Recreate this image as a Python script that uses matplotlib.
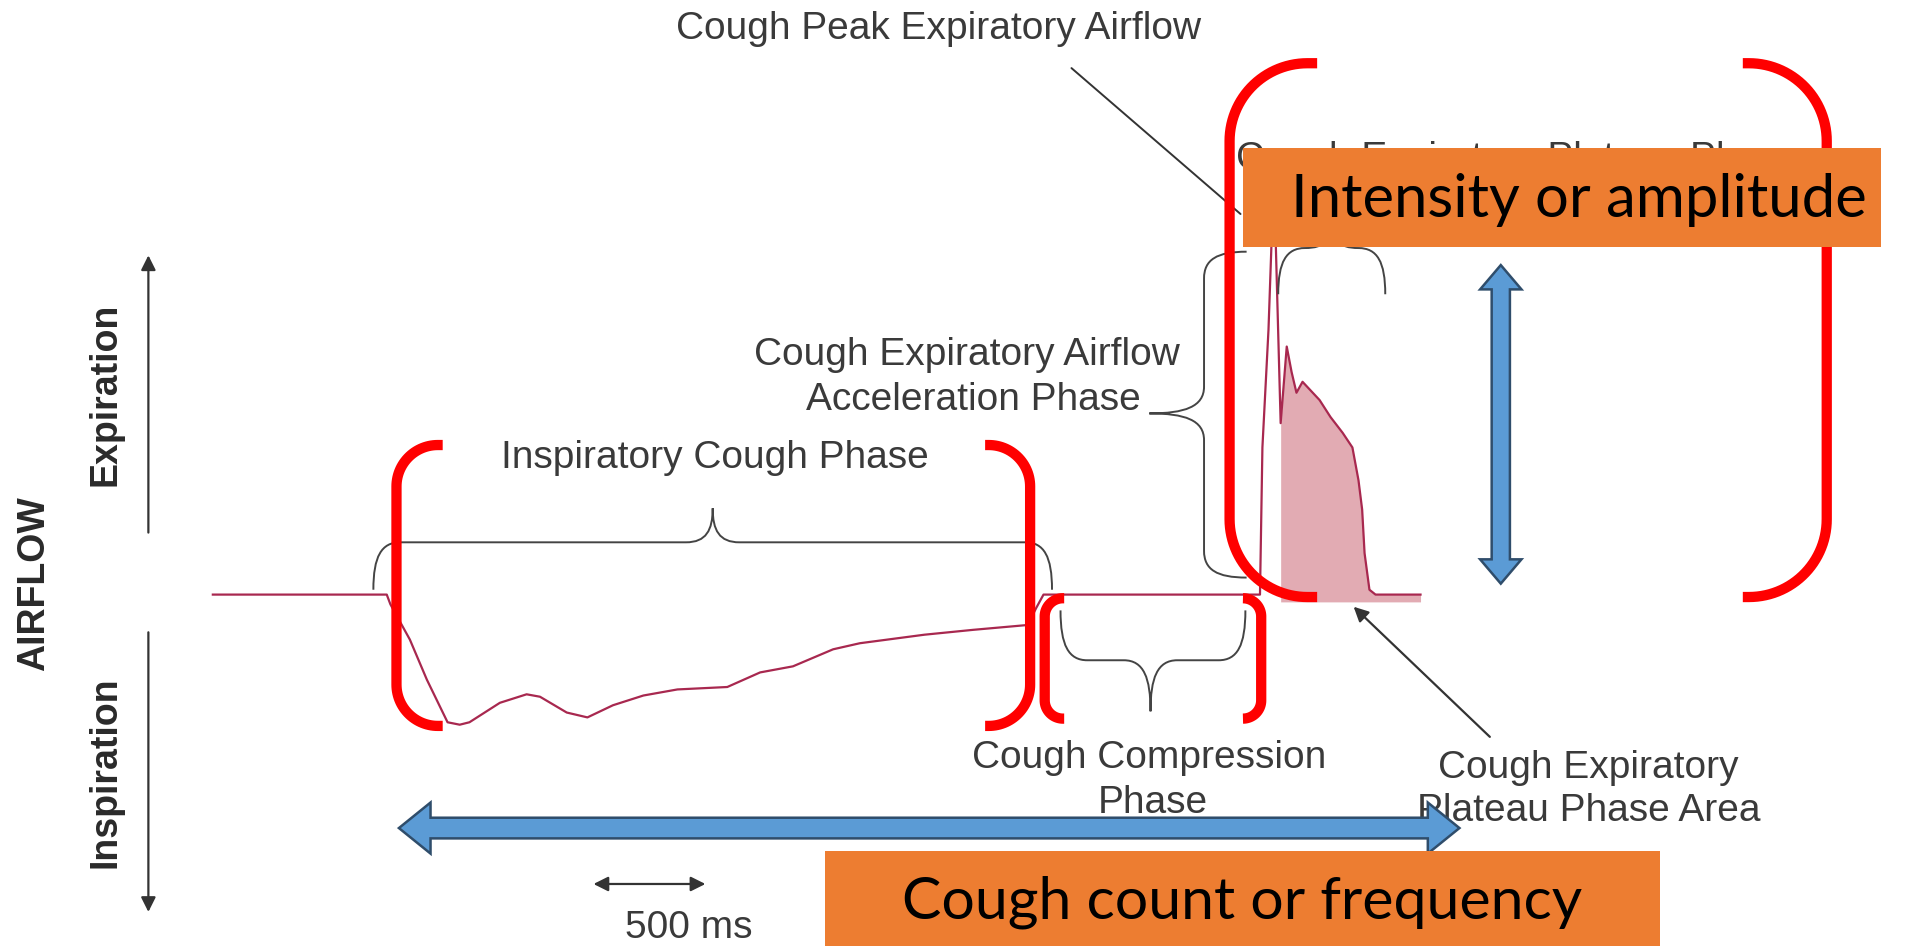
import numpy as np
import matplotlib.pyplot as plt
from matplotlib.patches import Polygon, Rectangle, PathPatch
from matplotlib.path import Path

plt.rcParams['font.family'] = ['Liberation Sans', 'DejaVu Sans']

# airflow trace (picture pixels, y grows downwards)
trace_x = [175, 318, 321, 337, 351, 368, 378, 386, 411, 433, 444, 466, 483, 504,
           529, 557, 598, 625, 652, 685, 707, 760, 800, 845, 852, 858, 1036, 1038,
           1043, 1046, 1049, 1053, 1058, 1062, 1066, 1071, 1085, 1094, 1104, 1112,
           1117, 1120, 1122, 1126, 1131, 1168]
trace_y = [489, 489, 497, 526, 559, 594, 596, 594, 578, 571, 573, 586, 590, 580,
           572, 567, 565, 553, 548, 534, 529, 522, 518, 514, 500, 489, 489, 368,
           271, 185, 201, 348, 285, 306, 323, 314, 329, 343, 356, 368, 395, 419,
           455, 485, 489, 489]
plateau_start = 31   # index where the shaded plateau area begins
plateau_floor = 495

# phase labels: text, x, y
labels = [
    ("Cough Peak Expiratory Airflow", 772, 24),
    ("Cough Expiratory Plateau Phase", 1248, 131),
    ("Cough Expiratory Airflow", 795, 292),
    ("Acceleration Phase", 800, 329),
    ("Inspiratory Cough Phase", 588, 377),
    ("Cough Compression", 945, 623),
    ("Phase", 948, 660),
    ("Cough Expiratory", 1306, 632),
    ("Plateau Phase Area", 1306, 667),
    ("500 ms", 566, 763),
]
side_labels = [("AIRFLOW", 28, 480), ("Expiration", 87, 324), ("Inspiration", 87, 635)]

# red brackets: x of vertical stroke, x of stub end, top, bottom, corner radius
red_brackets = [
    (1011, 1083, 52, 491, 64), (1502, 1433, 52, 491, 64),
    (326, 364, 366, 597, 34), (847, 810, 366, 597, 34),
    (859, 875, 492, 591, 15), (1037, 1022, 492, 591, 15),
]

# curly braces: start, end, tip position, level, end offset, tip offset, vertical?
braces = [
    (307, 865, 586, 446, 39, 28, False),
    (872, 1024, 946, 543, -41, -42, False),
    (1051, 1139, 1095, 204, 38, 20, False),
    (207, 475, 340, 990, 35, 45, True),
]

# orange boxes: x, y, w, h, text, font size, text shift
boxes = [(1022, 122, 525, 81, "Intensity or amplitude", 43, 14),
         (678, 700, 687, 80, "Cough count or frequency", 42.5, 0)]


def brace_path(a0, a1, am, lev, e, t, r=22):
    pts = [(a0, lev + e),
           (a0, lev + e * 0.3), (a0 + r * 0.3, lev), (a0 + r, lev),
           (am - r, lev),
           (am - r * 0.25, lev), (am, lev - t * 0.35), (am, lev - t),
           (am, lev - t * 0.35), (am + r * 0.25, lev), (am + r, lev),
           (a1 - r, lev),
           (a1 - r * 0.3, lev), (a1, lev + e * 0.3), (a1, lev + e)]
    codes = [Path.MOVETO] + [Path.CURVE4] * 3 + [Path.LINETO] + [Path.CURVE4] * 6 \
        + [Path.LINETO] + [Path.CURVE4] * 3
    return pts, codes


def red_bracket(ax, xv, xe, y0, y1, r):
    side = np.sign(xe - xv)
    cx = xv + side * r
    th = np.linspace(0, np.pi / 2, 30)
    top_x = cx - side * r * np.sin(th)
    top_y = y0 + r - r * np.cos(th)
    bot_x = cx - side * r * np.cos(th)
    bot_y = y1 - r + r * np.sin(th)
    xs = np.concatenate([[xe], top_x, bot_x, [xe]])
    ys = np.concatenate([[y0], top_y, bot_y, [y1]])
    ax.plot(xs, ys, color='#ff0000', lw=7.4, solid_capstyle='butt',
            solid_joinstyle='round', zorder=5)


def block_arrow(a0, a1, shaft, head, hlen):
    # outline of a double headed arrow along one axis, offsets across it
    return [(a0, 0), (a0 + hlen, -head), (a0 + hlen, -shaft), (a1 - hlen, -shaft),
            (a1 - hlen, -head), (a1, 0), (a1 - hlen, head), (a1 - hlen, shaft),
            (a0 + hlen, shaft), (a0 + hlen, head)]


fig = plt.figure(figsize=(19.07, 9.46), dpi=100)
ax = fig.add_axes([0, 0, 1, 1])
ax.set_xlim(0, 1568)
ax.set_ylim(778, 0)
ax.axis('off')

# trace and plateau area
ax.fill_between(trace_x[plateau_start:], trace_y[plateau_start:], plateau_floor,
                color='#e2abb3', lw=0, zorder=1)
ax.plot(trace_x, trace_y, color='#a8284f', lw=1.6, zorder=2)

for a0, a1, am, lev, e, t, vert in braces:
    pts, codes = brace_path(a0, a1, am, lev, e, t)
    if vert:
        pts = [(p[1], p[0]) for p in pts]
    ax.add_patch(PathPatch(Path(pts, codes), fill=False, ec='#444444', lw=1.4, zorder=2))

for txt, x, y in labels:
    ax.text(x, y, txt, ha='center', va='center', fontsize=28, color='#3a3a3a', zorder=3)
for txt, x, y in side_labels:
    ax.text(x, y, txt, ha='center', va='center', rotation=90, fontsize=27,
            fontweight='bold', color='#2a2a2a', zorder=3)

arrow_kw = dict(color='#333333', lw=1.6, shrinkA=0, shrinkB=0, mutation_scale=22)
ax.annotate('', xy=(122, 210), xytext=(122, 438), arrowprops=dict(arrowstyle='-|>', **arrow_kw))
ax.annotate('', xy=(122, 750), xytext=(122, 520), arrowprops=dict(arrowstyle='-|>', **arrow_kw))
ax.annotate('', xy=(580, 727), xytext=(488, 727), arrowprops=dict(arrowstyle='<|-|>', **arrow_kw))
ax.annotate('', xy=(1020, 176), xytext=(881, 56),
            arrowprops=dict(arrowstyle='-', color='#333333', lw=1.4, shrinkA=0, shrinkB=0))
ax.annotate('', xy=(1113, 499), xytext=(1225, 606), arrowprops=dict(arrowstyle='-|>', **arrow_kw))

for b in red_brackets:
    red_bracket(ax, *b)

# blue double arrows
pts = block_arrow(218, 480, 7.5, 17, 20)
ax.add_patch(Polygon([(1234 + q, p) for p, q in pts], closed=True, fc='#5b9bd5',
                     ec='#2f4d6b', lw=1.8, zorder=6))
pts = block_arrow(328, 1200, 8.5, 21, 26)
ax.add_patch(Polygon([(p, 681 + q) for p, q in pts], closed=True, fc='#5b9bd5',
                     ec='#2f4d6b', lw=1.8, zorder=6))

for x, y, w, h, txt, fs, dx in boxes:
    ax.add_patch(Rectangle((x, y), w, h, fc='#ed7d31', ec='none', zorder=7))
    ax.text(x + w / 2 + dx, y + h / 2 + 2, txt, ha='center', va='center', fontsize=fs,
            family=['Lato', 'DejaVu Sans'], color='black', zorder=8)

fig.savefig('out.png', dpi=100)
